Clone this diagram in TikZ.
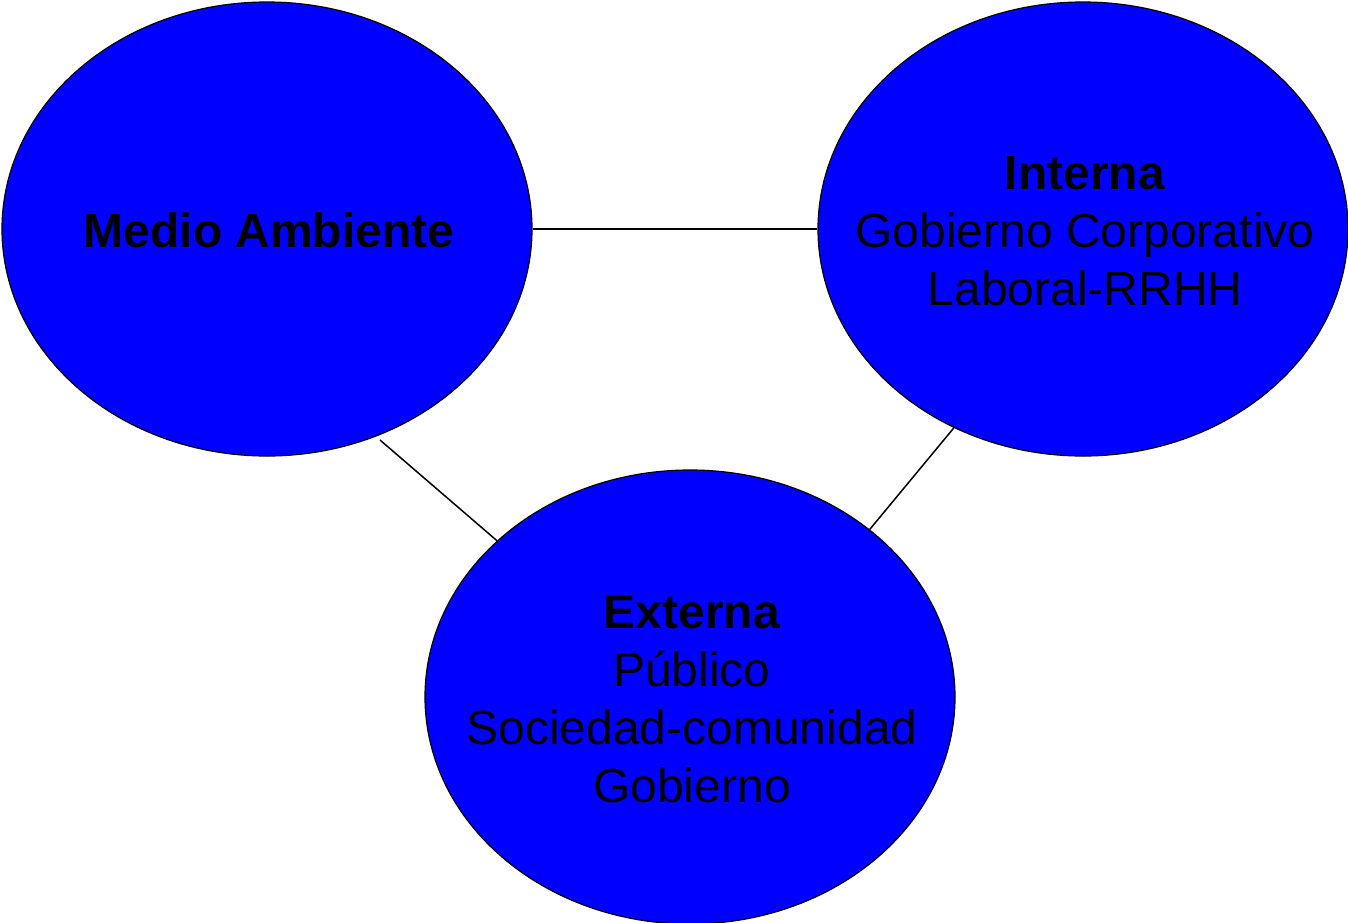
\documentclass[tikz,border=0pt]{standalone}
\usepackage{fontspec}
\setmainfont{Liberation Sans}
\usetikzlibrary{shapes.geometric}
\begin{document}
\begin{tikzpicture}[x=1pt,y=1pt,
  bubble/.style={ellipse,draw=black,line width=1.2pt,fill={rgb,255:red,0;green,0;blue,255},
    minimum width=530pt,minimum height=454pt,inner sep=0pt},
  label/.style={align=center,text=black,font=\fontsize{48}{58}\selectfont,inner sep=0pt},
  link/.style={draw=black,line width=1.5pt}]
\useasboundingbox (0,0) rectangle (1348,-922);
\node[bubble] (m) at (267,-229) {};
\node[bubble] (i) at (1083,-229) {};
\node[bubble] (e) at (690,-697) {};
\node[label] (mt) at (269,-230) {\textbf{Medio Ambiente}};
\node[label] (it) at (1085,-231) {\textbf{Interna}\\Gobierno Corporativo\\Laboral-RRHH};
\node[label] (et) at (692,-699) {\textbf{Externa}\\Público\\Sociedad-comunidad\\Gobierno};
\coordinate (ms) at (380,-440);
\draw[link] (m.east) -- (i.west);
\draw[link] (ms) -- (e.141.4);
\draw[link] (i.237) -- (e.43.7);
\end{tikzpicture}
\end{document}
